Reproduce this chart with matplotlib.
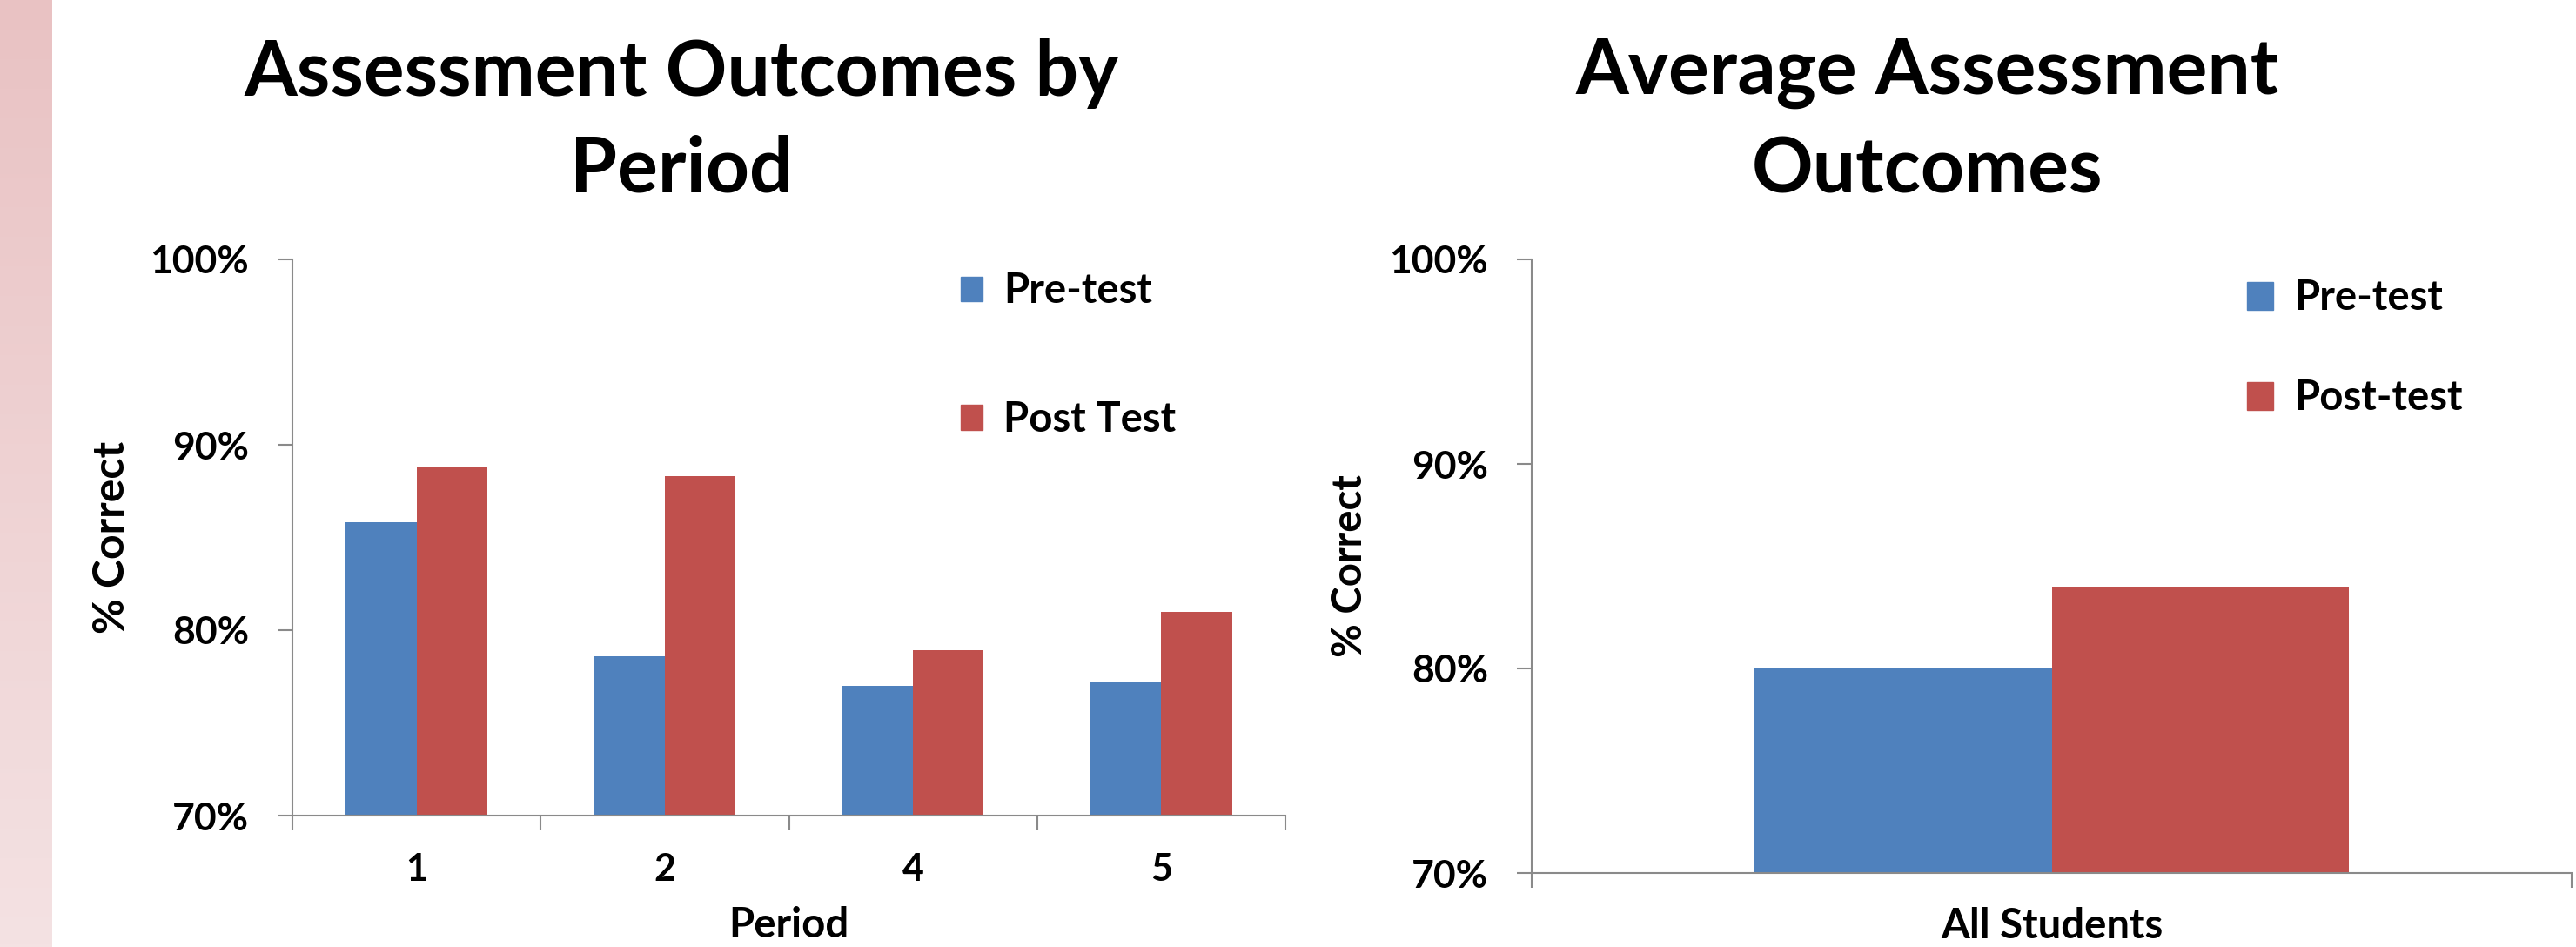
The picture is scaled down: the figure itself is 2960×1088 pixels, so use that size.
import numpy as np
import matplotlib.pyplot as plt
from matplotlib.patches import Patch
from matplotlib.colors import LinearSegmentedColormap

plt.rcParams['font.family'] = ['Lato', 'DejaVu Sans']
plt.rcParams['font.weight'] = 'bold'
plt.rcParams['axes.labelweight'] = 'bold'

# data
periods = ['1', '2', '4', '5']
pre_test = [85.8, 78.6, 77.0, 77.2]
post_test = [88.8, 88.3, 78.9, 81.0]

avg_labels = ['All Students']
avg_pre = [80.0]
avg_post = [84.0]

BLUE = '#4F81BD'
RED = '#C0504D'
AXIS_GRAY = '#8A8A8A'

W, H = 2960, 1088
fig = plt.figure(figsize=(W / 100, H / 100), dpi=100)
fig.patch.set_facecolor('white')

# pink band on the left edge
band = fig.add_axes([0, 0, 60 / W, 1])
grad = np.linspace(0, 1, 256).reshape(-1, 1)
cmap = LinearSegmentedColormap.from_list('band', ['#E9C2C3', '#F4E2E3'])
band.imshow(grad, aspect='auto', cmap=cmap, extent=[0, 1, 0, 1], origin='upper')
band.axis('off')


def style_axes(ax):
    for s in ['top', 'right']:
        ax.spines[s].set_visible(False)
    for s in ['left', 'bottom']:
        ax.spines[s].set_color(AXIS_GRAY)
        ax.spines[s].set_linewidth(1.5)
    ax.set_ylim(70, 100)
    ax.set_yticks([70, 80, 90, 100])
    ax.set_yticklabels(['70%', '80%', '90%', '100%'])
    ax.tick_params(axis='y', direction='out', length=12, width=1.5,
                   color=AXIS_GRAY, labelsize=32, pad=24)
    ax.tick_params(axis='x', which='major', length=0, labelsize=31, pad=30)
    ax.tick_params(axis='x', which='minor', direction='out', length=12,
                   width=1.5, color=AXIS_GRAY)


# by period
ax1 = fig.add_axes([336 / W, 1 - 937 / H, (1477 - 336) / W, (937 - 298) / H])
x = np.arange(len(periods))
bw = 0.285
ax1.bar(x - bw / 2, [v - 70 for v in pre_test], bw, bottom=70, color=BLUE, label='Pre-test')
ax1.bar(x + bw / 2, [v - 70 for v in post_test], bw, bottom=70, color=RED, label='Post Test')
ax1.set_xlim(-0.5, len(periods) - 0.5)
style_axes(ax1)
ax1.set_xticks(x)
ax1.set_xticklabels(periods)
ax1.set_xticks(np.arange(len(periods) + 1) - 0.5, minor=True)
ax1.set_xlabel('Period', fontsize=34, va='center')
ax1.xaxis.set_label_coords(0.5, -0.197)
ax1.set_ylabel('% Correct', fontsize=36, va='center')
ax1.yaxis.set_label_coords(-0.182, 0.5)
ax1.legend(handles=[Patch(color=BLUE), Patch(color=RED)], labels=['Pre-test', 'Post Test'],
           loc='upper left', bbox_to_anchor=(1061 / W, 1 - 270 / H), bbox_transform=fig.transFigure,
           frameon=False, fontsize=34, handlelength=0.55, handleheight=0.55,
           handletextpad=0.5, labelspacing=2.2)

# average
ax2 = fig.add_axes([1760 / W, 1 - 1003 / H, (2955 - 1760) / W, (1003 - 298) / H])
bw2 = 0.286
ax2.bar([-bw2 / 2], [v - 70 for v in avg_pre], bw2, bottom=70, color=BLUE)
ax2.bar([bw2 / 2], [v - 70 for v in avg_post], bw2, bottom=70, color=RED)
ax2.set_xlim(-0.5, 0.5)
style_axes(ax2)
ax2.set_xticks([0])
ax2.set_xticklabels(avg_labels, fontsize=34, va='center')
ax2.set_xticks([-0.5, 0.5], minor=True)
ax2.tick_params(axis='x', which='major', pad=44)
ax2.set_ylabel('% Correct', fontsize=34, va='center')
ax2.yaxis.set_label_coords(-0.175, 0.5)
ax2.legend(handles=[Patch(color=BLUE), Patch(color=RED)], labels=['Pre-test', 'Post-test'],
           loc='upper left', bbox_to_anchor=(2539 / W, 1 - 278 / H), bbox_transform=fig.transFigure,
           frameon=False, fontsize=34, handlelength=0.65, handleheight=0.65,
           handletextpad=0.5, labelspacing=1.5)

fig.text(783 / W, 1 - 140 / H, 'Assessment Outcomes by\nPeriod', ha='center', va='center',
         fontsize=63, fontweight='bold', linespacing=1.45)
fig.text(2215 / W, 1 - 140 / H, 'Average Assessment\nOutcomes', ha='center', va='center',
         fontsize=63, fontweight='bold', linespacing=1.45)

fig.savefig('out.png', dpi=100)
